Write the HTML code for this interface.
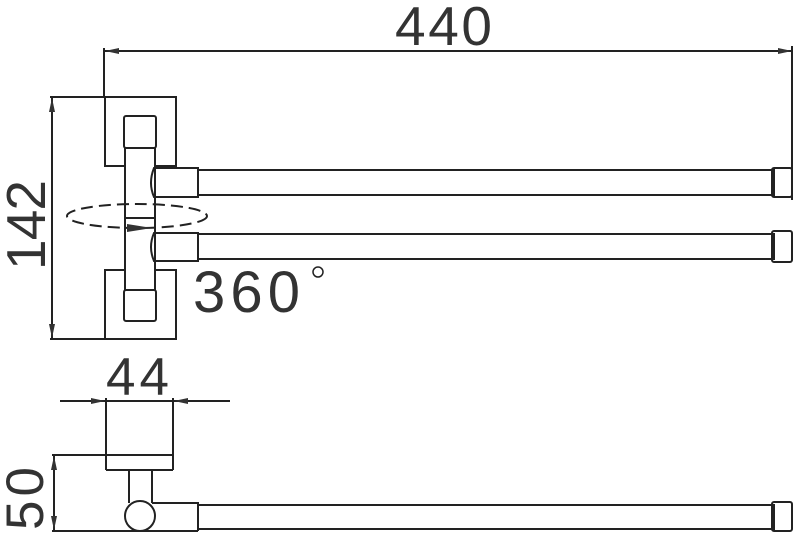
<!DOCTYPE html>
<html><head><style>body{margin:0;background:#fff}svg{display:block}</style></head>
<body>
<svg width="800" height="549" viewBox="0 0 800 549" xmlns="http://www.w3.org/2000/svg">
<defs>
<marker id="a" markerWidth="14" markerHeight="8" refX="14" refY="4" orient="auto" markerUnits="userSpaceOnUse"><path d="M0,1 L14,4 L0,7 Z" fill="#333"/></marker>
</defs>
<g fill="none" stroke="#222" stroke-width="2" font-family="Liberation Sans, sans-serif">
<!-- 440 dimension -->
<line x1="104" y1="48" x2="104" y2="97"/>
<line x1="792" y1="46" x2="792" y2="200"/>
<line x1="120" y1="51" x2="780" y2="51"/>
<line x1="130" y1="51" x2="105" y2="51" marker-end="url(#a)"/>
<line x1="770" y1="51" x2="792" y2="51" marker-end="url(#a)"/>
<text x="395" y="45" font-size="55" fill="#333" stroke="none" textLength="97">440</text>
<!-- 142 dimension -->
<line x1="50" y1="97" x2="176" y2="97"/>
<line x1="50" y1="339" x2="176" y2="339"/>
<line x1="52" y1="110" x2="52" y2="325"/>
<line x1="52" y1="120" x2="52" y2="98" marker-end="url(#a)"/>
<line x1="52" y1="316" x2="52" y2="338" marker-end="url(#a)"/>
<text transform="translate(45,270) rotate(-90)" font-size="55" fill="#333" stroke="none" textLength="90">142</text>
<!-- top bracket -->
<path d="M124,166 H105 V97 H176 V166 H156"/>
<rect x="124" y="116" width="32" height="32" rx="2"/>
<path d="M124,270 H105 V339 H176 V270 H156"/>
<rect x="124" y="290" width="32" height="31" rx="2"/>
<line x1="125" y1="148" x2="125" y2="290"/>
<line x1="155" y1="148" x2="155" y2="290"/>
<line x1="125" y1="218" x2="155" y2="218"/>
<!-- arms -->
<path d="M154,168 H198 V197 H154 Q148,183 154,168 Z"/>
<rect x="198" y="170" width="576" height="25"/>
<rect x="772" y="168" width="20" height="29" rx="2"/>
<path d="M154,233 H198 V261 H154 Q148,247 154,233 Z"/>
<rect x="198" y="234" width="576" height="25"/>
<rect x="772" y="231" width="20" height="31" rx="2"/>
<!-- rotation ellipse -->
<ellipse cx="137" cy="216" rx="70" ry="12" stroke-dasharray="12,6"/>
<path d="M127,224 L152,228 L127,232 Z" fill="#333" stroke="none"/>
<text x="193" y="312" font-size="58" fill="#333" stroke="none" textLength="107">360</text>
<circle cx="318" cy="272" r="5" stroke-width="1.5"/>
<!-- bottom view: 44 -->
<line x1="106" y1="398" x2="106" y2="470"/>
<line x1="173" y1="398" x2="173" y2="470"/>
<line x1="60" y1="401" x2="230" y2="401"/>
<line x1="80" y1="401" x2="105" y2="401" marker-end="url(#a)"/>
<line x1="200" y1="401" x2="174" y2="401" marker-end="url(#a)"/>
<text x="106" y="395" font-size="53" fill="#333" stroke="none" textLength="63">44</text>
<line x1="106" y1="470" x2="173" y2="470"/>
<line x1="52" y1="455" x2="173" y2="455"/>
<line x1="52" y1="531" x2="198" y2="531"/>
<line x1="54" y1="465" x2="54" y2="520"/>
<line x1="54" y1="475" x2="54" y2="456" marker-end="url(#a)"/>
<line x1="54" y1="510" x2="54" y2="530" marker-end="url(#a)"/>
<text transform="translate(43,530) rotate(-90)" font-size="53" fill="#333" stroke="none" textLength="63">50</text>
<line x1="129" y1="470" x2="129" y2="503"/>
<line x1="152" y1="470" x2="152" y2="503"/>
<circle cx="140" cy="516" r="15"/>
<path d="M152,503 H198 V531"/>
<rect x="198" y="505" width="576" height="24"/>
<rect x="772" y="502" width="20" height="29" rx="2"/>
</g>
</svg>
</body></html>
